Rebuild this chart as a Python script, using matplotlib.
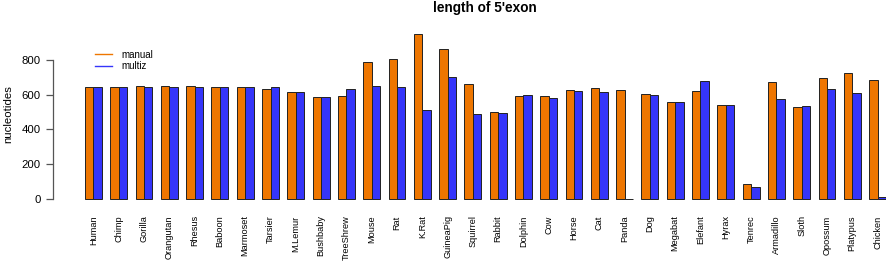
import numpy as np
import matplotlib
matplotlib.use('Agg')
import matplotlib.pyplot as plt

species = ['Human', 'Chimp', 'Gorilla', 'Orangutan', 'Rhesus', 'Baboon', 'Marmoset',
           'Tarsier', 'M.Lemur', 'Bushbaby', 'TreeShrew', 'Mouse', 'Rat', 'K.Rat',
           'GuineaPig', 'Squirrel', 'Rabbit', 'Dolphin', 'Cow', 'Horse', 'Cat', 'Panda',
           'Dog', 'Megabat', 'Elefant', 'Hyrax', 'Tenrec', 'Armadillo', 'Sloth',
           'Opossum', 'Platypus', 'Chicken']
manual = [644, 644, 650, 650, 652, 644, 642, 635, 616, 589, 591, 786, 804, 947,
          865, 663, 499, 594, 594, 629, 639, 629, 602, 558, 619, 543, 85, 675, 529,
          696, 723, 686]
multiz = [644, 644, 644, 644, 644, 644, 642, 642, 616, 589, 631, 648, 642, 510,
          700, 489, 497, 598, 583, 621, 616, 0, 598, 558, 681, 543, 69, 575, 537,
          631, 610, 12]

orange = '#EE7600'
blue = '#3535FA'

plt.rcParams['font.family'] = ['Liberation Sans', 'DejaVu Sans']

fig = plt.figure(figsize=(8.86, 2.72), dpi=100)
ax = fig.add_axes([53 / 886, 66.4 / 272, 865 / 886, 177.8 / 272])

# R style barplot: bar width 1, one unit gap between groups
x = np.arange(len(species)) * 3
ax.bar(x + 1, manual, width=1, align='edge', color=orange, edgecolor='#222222', linewidth=0.7)
ax.bar(x + 2, multiz, width=1, align='edge', color=blue, edgecolor='#222222', linewidth=0.7)

ax.set_xlim(-2.8, 99.8)
ax.set_ylim(-37.9, 985)

for s in ['top', 'right', 'bottom']:
    ax.spines[s].set_visible(False)
ax.spines['left'].set_bounds(0, 800)
ax.spines['left'].set_color('#555555')
ax.spines['left'].set_linewidth(0.9)

ax.set_yticks([0, 200, 400, 600, 800])
ax.tick_params(axis='y', length=5, width=0.9, color='#555555', pad=4, labelsize=8.2)
ax.set_xticks(x + 2)
ax.set_xticklabels(species, rotation=90, fontsize=6.6)
ax.tick_params(axis='x', length=0, pad=7)

fig.text(8 / 886, 1 - 114 / 272, 'nucleotides', rotation=90, ha='center', va='center', fontsize=8.2)
fig.text(485 / 886, 1 - 8 / 272, "length of 5'exon", ha='center', va='center',
         fontsize=9.8, fontweight='bold')

# legend: short line segments with labels
ax.plot([], [], color=orange, lw=1, label='manual')
ax.plot([], [], color=blue, lw=1, label='multiz')
ax.legend(loc='upper left', bbox_to_anchor=(38 / 865, 1 - 18 / 177.8), frameon=False,
          fontsize=7, handlelength=1.8, handletextpad=0.9, labelspacing=0.15,
          borderaxespad=0)

fig.savefig('out.png', dpi=100)
